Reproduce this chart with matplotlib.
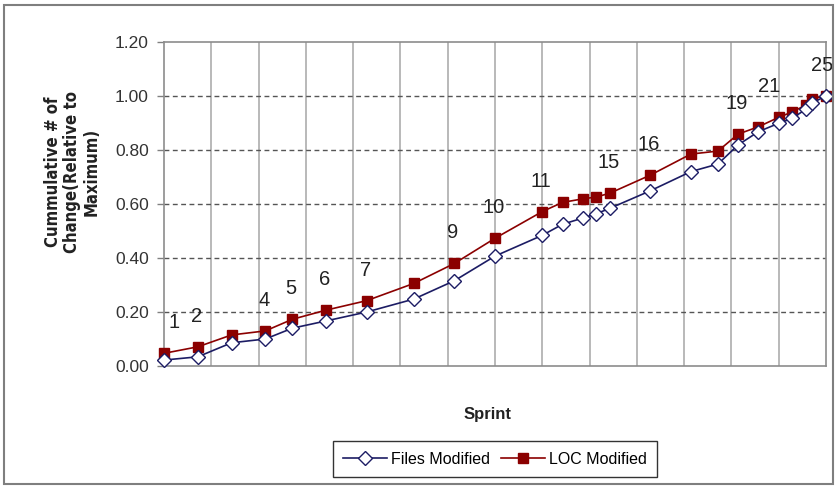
import matplotlib
matplotlib.use('Agg')
import matplotlib.pyplot as plt
from matplotlib.patches import Rectangle

# sprint number, day on which it ended, cumulative change relative to maximum
sprints = list(range(1, 26))
days = [0, 5, 10, 15, 19, 24, 30, 37, 43, 49, 56, 59, 62, 64, 66,
        72, 78, 82, 85, 88, 91, 93, 95, 96, 98]
files_modified = [0.022, 0.034, 0.086, 0.100, 0.140, 0.167, 0.200, 0.248, 0.316,
                  0.407, 0.484, 0.525, 0.548, 0.564, 0.584, 0.649, 0.720, 0.748,
                  0.819, 0.868, 0.899, 0.917, 0.951, 0.975, 1.000]
loc_modified = [0.047, 0.071, 0.115, 0.130, 0.173, 0.207, 0.242, 0.306, 0.380,
                0.473, 0.572, 0.606, 0.619, 0.626, 0.640, 0.707, 0.785, 0.796,
                0.859, 0.886, 0.921, 0.941, 0.966, 0.990, 1.000]
labelled = [1, 2, 4, 5, 6, 7, 9, 10, 11, 15, 16, 19, 21, 25]
y_ticks = [0.0, 0.2, 0.4, 0.6, 0.8, 1.0, 1.2]

plt.rcParams['font.family'] = ['Liberation Sans', 'DejaVu Sans']

W, H = 837, 486
fig = plt.figure(figsize=(W / 100, H / 100), dpi=100)
ax = fig.add_axes([164 / W, 1 - 366 / H, (826 - 164) / W, (366 - 42) / H])

# grid: solid verticals every 7 days, dashed horizontals
ax.set_xlim(0, 98)
ax.set_ylim(0, 1.2)
ax.set_xticks(range(0, 99, 7))
ax.set_yticks(y_ticks)
ax.set_yticklabels(['%.2f' % v for v in y_ticks])
for x in range(7, 98, 7):
    ax.axvline(x, color='#a6a6a6', lw=1.1, zorder=1)
for y in y_ticks[1:-1]:
    ax.axhline(y, color='#555555', lw=1.0, ls=(0, (3.5, 2.5)), zorder=1)
ax.tick_params(axis='x', length=0, labelbottom=False)
ax.tick_params(axis='y', length=5, width=1, color='#808080', pad=6,
               labelsize=12.5, labelcolor='#333333')
for s in ax.spines.values():
    s.set_color('#8c8c8c')
    s.set_linewidth(1.2)

ax.plot(days, loc_modified, color='#8b0000', lw=1.2, marker='s', ms=6.5,
        mfc='#8b0000', mec='#8b0000', label='LOC Modified', zorder=3, clip_on=False)
ax.plot(days, files_modified, color='#1c1c64', lw=1.2, marker='D', ms=7,
        mfc='white', mec='#1c1c64', mew=1.0, label='Files Modified', zorder=4,
        clip_on=False)

x_shift = {1: 7, 21: -7, 25: -3}
for n in labelled:
    i = sprints.index(n)
    ax.annotate(str(n), (days[i], loc_modified[i]),
                xytext=(x_shift.get(n, -1), 22), textcoords='offset points',
                ha='center', va='center', fontsize=14.5, color='#222222')

fig.text(488 / W, 1 - 414 / H, 'Sprint', ha='center', va='center',
         fontsize=12, fontweight='bold', color='#222222')
fig.text(72 / W, 1 - 172 / H, 'Cummulative # of\nChange(Relative to\nMaximum)',
         rotation=90, ha='center', va='center', multialignment='center',
         linespacing=1.1, fontsize=12, fontweight='bold', color='#222222',
         family='DejaVu Sans', fontstretch='condensed')

handles, labels = ax.get_legend_handles_labels()
leg = fig.legend(handles[::-1], labels[::-1], loc='center',
                 bbox_to_anchor=(495 / W, 1 - 459 / H), ncol=2, fontsize=11.5,
                 frameon=True, fancybox=False, handlelength=2.75,
                 columnspacing=0.65, handletextpad=0.25, borderpad=0.65,
                 borderaxespad=0)
leg.get_frame().set_edgecolor('black')
leg.get_frame().set_linewidth(1.0)

fig.patches.append(Rectangle((4 / W, 1 - 484 / H), 829 / W, 479 / H,
                             transform=fig.transFigure, fill=False,
                             edgecolor='#7f7f7f', lw=1.5))

fig.savefig('out.png', dpi=100)
